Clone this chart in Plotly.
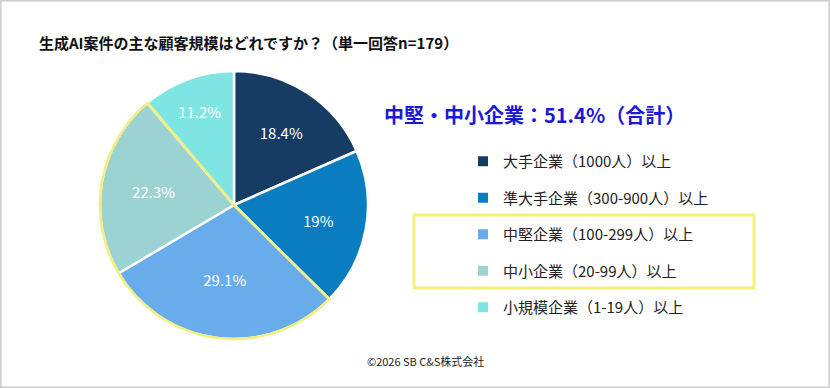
import plotly.graph_objects as go

W, H = 830, 388

title_text = "生成AI案件の主な顧客規模はどれですか？（単一回答n=179）"
summary_text = "中堅・中小企業：51.4%（合計）"
credit_text = "©2026 SB C&S株式会社"

categories = [
    "大手企業（1000人）以上",
    "準大手企業（300-900人）以上",
    "中堅企業（100-299人）以上",
    "中小企業（20-99人）以上",
    "小規模企業（1-19人）以上",
]
shares = [18.4, 19, 29.1, 22.3, 11.2]
colors = ["#173c63", "#0a7dc0", "#68acec", "#9ad3d2", "#7ee5e3"]
highlight_idx = [2, 3]  # 中堅 + 中小

FONT = "Noto Sans CJK JP"
YELLOW = "#f3ef78"

def px_x(x):
    return x / W

def px_y(y):
    return 1 - y / H

pie_domain = dict(x=[px_x(100), px_x(368)], y=[px_y(339), px_y(71)])

fig = go.Figure()

fig.add_trace(go.Pie(
    labels=categories,
    values=shares,
    sort=False,
    direction="clockwise",
    rotation=0,
    marker=dict(colors=colors, line=dict(color="white", width=2.5)),
    texttemplate="%{value}%",
    textposition="inside",
    insidetextorientation="horizontal",
    textfont=dict(family=FONT, size=15, color="white"),
    domain=pie_domain,
    showlegend=False,
    hoverinfo="label+value",
))

# Overlay: outline of the combined highlighted group in yellow
merged_labels = []
merged_values = []
merged_line = []
i = 0
while i < len(shares):
    if i == highlight_idx[0]:
        merged_labels.append("中堅・中小企業")
        merged_values.append(sum(shares[j] for j in highlight_idx))
        merged_line.append(YELLOW)
        i = highlight_idx[-1] + 1
    else:
        merged_labels.append(categories[i])
        merged_values.append(shares[i])
        merged_line.append("rgba(0,0,0,0)")
        i += 1

fig.add_trace(go.Pie(
    labels=merged_labels,
    values=merged_values,
    sort=False,
    direction="clockwise",
    rotation=0,
    marker=dict(colors=["rgba(0,0,0,0)"] * len(merged_values),
                line=dict(color=merged_line, width=2.5)),
    textinfo="none",
    domain=pie_domain,
    showlegend=False,
    hoverinfo="skip",
))

# Legend entries
for name, c in zip(categories, colors):
    fig.add_trace(go.Scatter(
        x=[None], y=[None], mode="markers", name=name,
        legendgroup=name,
        marker=dict(symbol="square", size=10, color=c),
    ))

fig.update_layout(
    width=W, height=H,
    margin=dict(l=0, r=0, t=0, b=0),
    paper_bgcolor="white",
    plot_bgcolor="white",
    xaxis=dict(visible=False),
    yaxis=dict(visible=False),
    font=dict(family=FONT, color="#222222"),
    legend=dict(
        x=px_x(463), y=px_y(145), xanchor="left", yanchor="top",
        font=dict(family=FONT, size=15, color="#222222"),
        tracegroupgap=14,
        bgcolor="rgba(0,0,0,0)",
    ),
    annotations=[
        dict(text="<b>" + title_text + "</b>", x=px_x(37), y=px_y(42),
             xref="paper", yref="paper", xanchor="left", yanchor="middle",
             showarrow=False, font=dict(family=FONT, size=15, color="#111111")),
        dict(text="<b>" + summary_text + "</b>", x=px_x(382), y=px_y(114),
             xref="paper", yref="paper", xanchor="left", yanchor="middle",
             showarrow=False, font=dict(family=FONT, size=20, color="#1a1ad6")),
        dict(text=credit_text, x=px_x(425), y=px_y(361),
             xref="paper", yref="paper", xanchor="center", yanchor="middle",
             showarrow=False, font=dict(family=FONT, size=11, color="#222222")),
    ],
    shapes=[
        dict(type="rect", xref="paper", yref="paper",
             x0=px_x(414), x1=px_x(754), y0=px_y(288), y1=px_y(215),
             line=dict(color=YELLOW, width=3)),
        dict(type="rect", xref="paper", yref="paper",
             x0=0.001, x1=0.999, y0=0.002, y1=0.998,
             line=dict(color="#cccccc", width=1.5)),
    ],
)

fig.write_html("out.html", config={"displayModeBar": False},
               post_script="document.body.style.margin='0';")
